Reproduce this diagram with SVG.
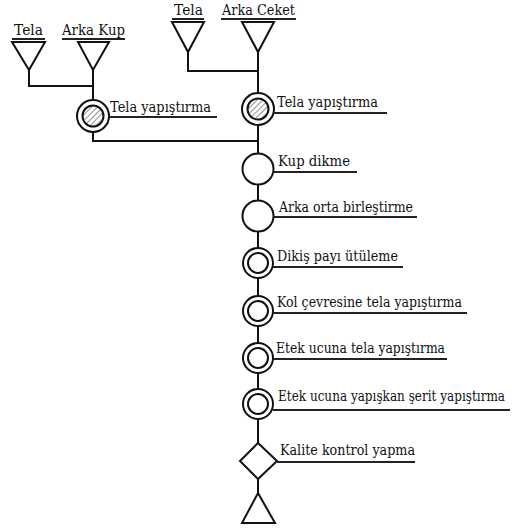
<svg xmlns="http://www.w3.org/2000/svg" width="512" height="530" viewBox="0 0 512 530">
<style>
.ln{stroke:#111;stroke-width:2;fill:none}
.ul{stroke:#222;stroke-width:2}
.nd{stroke:#111;stroke-width:2;fill:#fff}
text{font-family:'DejaVu Serif','Liberation Serif',serif;font-size:15px;fill:#111}
</style>
<defs>
<pattern id="hatch" width="4" height="4" patternUnits="userSpaceOnUse" patternTransform="rotate(45)">
<rect width="4" height="4" fill="#fff"/>
<line x1="0" y1="0" x2="0" y2="4" stroke="#777" stroke-width="1.6"/>
</pattern>
</defs>
<rect width="512" height="530" fill="#fff"/>
<g id="connectors">
<path class="ln" d="M29,70 V86 H93 M93,70 V100"/>
<path class="ln" d="M93,132 V141 H258"/>
<path class="ln" d="M188,52 V71 H258"/>
<path class="ln" d="M258,52 V493"/>
</g>
<g id="src-tela-left">
<text x="14" y="35" textLength="29" lengthAdjust="spacingAndGlyphs">Tela</text>
<line class="ul" x1="12" y1="39" x2="45" y2="39"/>
<polygon class="nd" points="12,42 45,42 29,70"/>
</g>
<g id="src-arka-kup">
<text x="62" y="35" textLength="63" lengthAdjust="spacingAndGlyphs">Arka Kup</text>
<line class="ul" x1="62" y1="39" x2="125" y2="39"/>
<polygon class="nd" points="78,42 109,42 93,70"/>
</g>
<g id="src-tela-right">
<text x="174" y="15" textLength="29" lengthAdjust="spacingAndGlyphs">Tela</text>
<line class="ul" x1="172" y1="19" x2="204" y2="19"/>
<polygon class="nd" points="172,22 204,22 188,52"/>
</g>
<g id="src-arka-ceket">
<text x="222" y="15" textLength="73" lengthAdjust="spacingAndGlyphs">Arka Ceket</text>
<line class="ul" x1="221" y1="19" x2="296" y2="19"/>
<polygon class="nd" points="242,22 274,22 258,52"/>
</g>
<g id="op-tela-left">
<circle class="nd" cx="93" cy="116" r="16"/>
<circle cx="93" cy="116" r="10.5" fill="url(#hatch)" stroke="#111" stroke-width="2"/>
<line class="ul" x1="109" y1="117" x2="217" y2="117"/>
<text x="110" y="112" textLength="101" lengthAdjust="spacingAndGlyphs">Tela yapıştırma</text>
</g>
<g id="op-tela-right">
<circle class="nd" cx="258" cy="109" r="16"/>
<circle cx="258" cy="109" r="10.5" fill="url(#hatch)" stroke="#111" stroke-width="2"/>
<line class="ul" x1="274" y1="113" x2="387" y2="113"/>
<text x="277" y="107" textLength="101" lengthAdjust="spacingAndGlyphs">Tela yapıştırma</text>
</g>
<g id="op-kup-dikme">
<circle class="nd" cx="258" cy="169" r="15.5"/>
<line class="ul" x1="273" y1="172" x2="357" y2="172"/>
<text x="278" y="166" textLength="72" lengthAdjust="spacingAndGlyphs">Kup dikme</text>
</g>
<g id="op-arka-orta">
<circle class="nd" cx="258" cy="216" r="15.5"/>
<line class="ul" x1="273" y1="217" x2="417" y2="217"/>
<text x="279" y="212" textLength="134" lengthAdjust="spacingAndGlyphs">Arka orta birleştirme</text>
</g>
<g id="op-dikis">
<circle class="nd" cx="258" cy="263" r="15"/>
<circle class="nd" cx="258" cy="263" r="10"/>
<line class="ul" x1="273" y1="267" x2="403" y2="267"/>
<text x="277" y="261" textLength="121" lengthAdjust="spacingAndGlyphs">Dikiş payı ütüleme</text>
</g>
<g id="op-kol">
<circle class="nd" cx="258" cy="311" r="15"/>
<circle class="nd" cx="258" cy="311" r="10"/>
<line class="ul" x1="273" y1="313" x2="467" y2="313"/>
<text x="277" y="307" textLength="185" lengthAdjust="spacingAndGlyphs">Kol çevresine tela yapıştırma</text>
</g>
<g id="op-etek-tela">
<circle class="nd" cx="258" cy="358" r="15"/>
<circle class="nd" cx="258" cy="358" r="10"/>
<line class="ul" x1="273" y1="359" x2="447" y2="359"/>
<text x="276" y="353" textLength="169" lengthAdjust="spacingAndGlyphs">Etek ucuna tela yapıştırma</text>
</g>
<g id="op-etek-serit">
<circle class="nd" cx="258" cy="404" r="15"/>
<circle class="nd" cx="258" cy="404" r="10"/>
<line class="ul" x1="273" y1="410" x2="510" y2="410"/>
<text x="278" y="401" textLength="227" lengthAdjust="spacingAndGlyphs">Etek ucuna yapışkan şerit yapıştırma</text>
</g>
<g id="inspect-kalite">
<polygon class="nd" points="258,443 277,461 258,479 240,461"/>
<line class="ul" x1="277" y1="462" x2="415" y2="462"/>
<text x="280" y="455" textLength="135" lengthAdjust="spacingAndGlyphs">Kalite kontrol yapma</text>
</g>
<g id="storage">
<polygon class="nd" points="258,493 275,523 242,523"/>
</g>
</svg>
